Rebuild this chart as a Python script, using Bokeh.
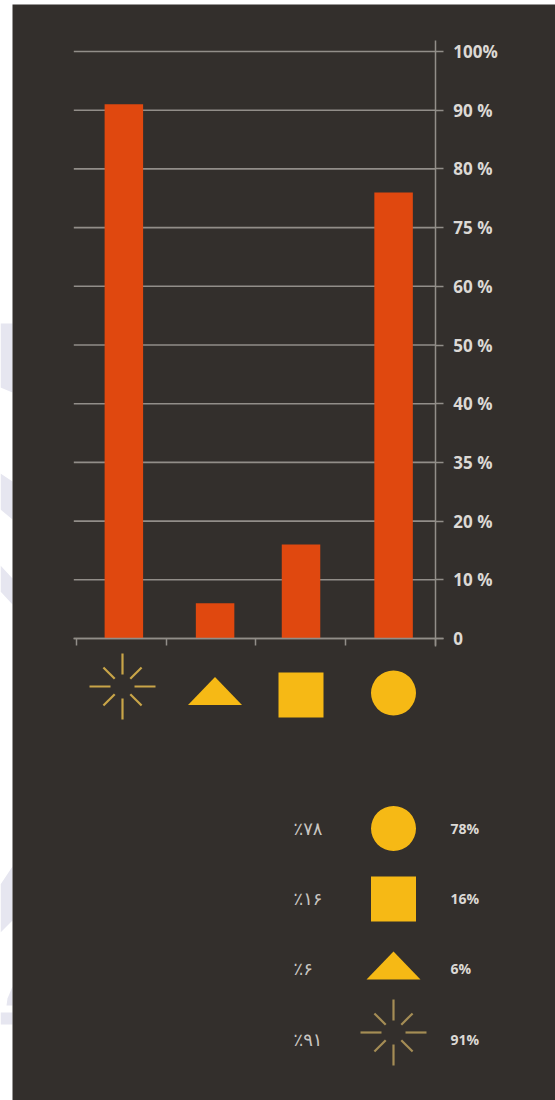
import numpy as np
from bokeh.core.properties import value
from bokeh.embed import file_html
from bokeh.models import FixedTicker, LinearAxis, Range1d
from bokeh.plotting import figure
from bokeh.resources import INLINE

# Survey shares, one bar per symbol
symbols = ["burst", "triangle", "square", "circle"]
shares = [91, 6, 16, 78]

# The value axis is ordinal: its labels sit at equal steps
axis_values = [0, 10, 20, 35, 40, 50, 60, 75, 80, 90, 100]
axis_labels = ["0", "10 %", "20 %", "35 %", "40 %", "50 %", "60 %", "75 %", "80 %", "90 %", "100%"]

# Key below the chart, top to bottom
key_symbols = ["circle", "square", "triangle", "burst"]
key_latin = ["78%", "16%", "6%", "91%"]
key_persian = ["٪۷۸", "٪۱۶", "٪۶", "٪۹۱"]

WIDTH, HEIGHT = 555, 1100
PANEL = "#332f2c"
BAR = "#e0480f"
YELLOW = "#f6b915"
RULE = "#928e89"
LABEL = "#dcd9d5"

# Chart geometry in page pixels
X0, X_STEP = 76.0, 89.7
Y0, Y_STEP = 638.0, 58.7

x_range = Range1d((0 - X0) / X_STEP, (WIDTH - X0) / X_STEP)
y_range = Range1d((Y0 - HEIGHT) / Y_STEP, Y0 / Y_STEP)

p = figure(
    width=WIDTH, height=HEIGHT, x_range=x_range, y_range=y_range,
    x_axis_type=None, y_axis_type=None, toolbar_location=None,
    output_backend="svg", min_border=0, outline_line_color=None,
    background_fill_color="#ffffff", border_fill_color="#ffffff",
)
p.grid.visible = False
p.extra_x_ranges["page"] = Range1d(0, WIDTH)
p.extra_y_ranges["page"] = Range1d(HEIGHT, 0)
PAGE = dict(x_range_name="page", y_range_name="page")

# Pale watermark fragments on the white margin
shapes = [
    ([0, 12, 12, 0], [323, 323, 392, 387]),
    ([0, 12, 12, 0], [473, 481, 519, 509]),
    ([0, 12, 12, 0], [565, 578, 604, 591]),
    ([0, 12, 12, 0], [884, 866, 920, 932]),
    ([0, 12, 12, 0], [1012, 1012, 1024, 1024]),
    ([7, 12, 12, 6], [998, 986, 1005, 1005]),
]
p.patches([s[0] for s in shapes], [s[1] for s in shapes], fill_color="#e6e6f0", line_color=None, **PAGE)

# Dark panel
p.quad(left=[12], right=[WIDTH], top=[4], bottom=[HEIGHT], fill_color=PANEL, line_color=None, **PAGE)

ticks = list(range(len(axis_values)))

# Horizontal rules, stopping at the value axis
p.segment(x0=[-0.03] * len(ticks), x1=[4.0] * len(ticks), y0=ticks, y1=ticks,
          line_color=RULE, line_width=1.6)

# Bars: each share placed on the ordinal axis between its neighbouring labels
bar_slots = [0.528, 1.545, 2.503, 3.535]
bar_tops = np.interp(shares, axis_values, ticks)
p.vbar(x=bar_slots, top=bar_tops, bottom=0, width=38.5 / X_STEP, fill_color=BAR, line_color=None)

# Value axis on the right of the bars
y_axis = LinearAxis(
    fixed_location=4,
    ticker=FixedTicker(ticks=ticks),
    major_label_overrides={i: s for i, s in zip(ticks, axis_labels)},
    bounds=(-0.14, 10.19),
    major_tick_in=0, major_tick_out=8, minor_tick_line_color=None,
    major_tick_line_color=RULE, major_tick_line_width=1.5,
    axis_line_color=RULE, axis_line_width=1.5,
    major_label_text_color=LABEL, major_label_text_font="Open Sans",
    major_label_text_font_style="bold", major_label_text_font_size="17px",
    major_label_standoff=10,
)
p.add_layout(y_axis, "right")

# Category axis with tick marks between the bars
x_axis = LinearAxis(
    fixed_location=0,
    ticker=FixedTicker(ticks=[0, 1, 2, 3, 4]),
    bounds=(-0.03, 4.09),
    major_tick_in=0, major_tick_out=7, minor_tick_line_color=None,
    major_tick_line_color=RULE, major_tick_line_width=1.5,
    axis_line_color=RULE, axis_line_width=1.6,
    major_label_text_color=None,
)
p.add_layout(x_axis, "below")


def draw_symbol(kind, cx, cy):
    if kind == "circle":
        p.scatter([cx], [cy], marker="circle", size=45, fill_color=YELLOW, line_color=None, **PAGE)
    elif kind == "square":
        p.scatter([cx], [cy], marker="square", size=45, fill_color=YELLOW, line_color=None, **PAGE)
    elif kind == "triangle":
        p.patch([cx - 27, cx, cx + 27], [cy + 14, cy - 14, cy + 14], fill_color=YELLOW, line_color=None, **PAGE)
    else:
        colour = "#c9a548" if cy < 800 else "#a58d55"
        angles = np.deg2rad(np.arange(0, 360, 45))
        inner = np.array([12, 11, 12, 11, 12, 11, 12, 11])
        outer = np.array([33, 27, 33, 27, 33, 27, 33, 27])
        p.segment(cx + inner * np.cos(angles), cy + inner * np.sin(angles),
                  cx + outer * np.cos(angles), cy + outer * np.sin(angles),
                  line_color=colour, line_width=2.2, **PAGE)


# One symbol under each bar
for kind, cx, cy in zip(symbols, [122, 214.5, 300.5, 393], [686, 690.5, 694.5, 692.5]):
    draw_symbol(kind, cx, cy)

# Key rows
key_rows = [828, 898.5, 965, 1032]
for kind, cy in zip(key_symbols, key_rows):
    draw_symbol(kind, 393, cy)

label_rows = [828, 898, 968, 1039]
p.text([450] * 4, label_rows, text=key_latin, text_color=LABEL, text_font=value("Open Sans"),
       text_font_style="bold", text_font_size="14px", text_align="left", text_baseline="middle", **PAGE)
p.text([293] * 4, label_rows, text=key_persian, text_color="#c9c6c2", text_font=value("DejaVu Sans"),
       text_font_size="18px", text_align="left", text_baseline="middle", **PAGE)

open("out.html", "w").write(file_html(p, INLINE))
